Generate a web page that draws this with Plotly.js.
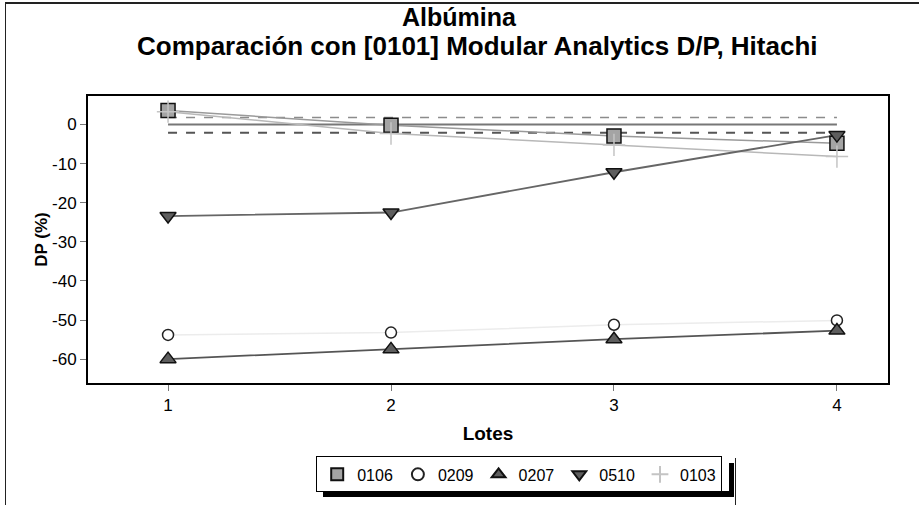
<!DOCTYPE html>
<html>
<head>
<meta charset="utf-8">
<script src="https://cdn.plot.ly/plotly-3.0.1.min.js"></script>
<style>
html,body{margin:0;padding:0;background:#fff;}
#wrap{position:relative;width:919px;height:505px;overflow:hidden;}
#chart{position:absolute;left:0;top:0;width:919px;height:505px;z-index:1;}
.deco{position:absolute;background:#222;pointer-events:none;z-index:3;}
.shadow{position:absolute;background:#000;pointer-events:none;z-index:3;}
</style>
</head>
<body>
<div id="wrap">
  <div id="chart"></div>
  <div class="deco" style="left:5px;top:2px;width:914px;height:2px;"></div>
  <div class="deco" style="left:5px;top:2px;width:1px;height:503px;"></div>
  <div class="deco" style="left:735px;top:458px;width:1px;height:47px;"></div>
  <div class="shadow" style="left:729px;top:463px;width:5px;height:34px;"></div>
  <div class="shadow" style="left:323px;top:491px;width:411px;height:6px;"></div>
</div>
<script>
// ---- data ----
const lotes = [1, 2, 3, 4];
const s0106 = [3.6, -0.2, -2.9, -4.8];
const s0209 = [-53.8, -53.2, -51.2, -50.1];
const s0207 = [-60.0, -57.5, -54.9, -52.7];
const s0510 = [-23.4, -22.5, -12.2, -2.7];
const s0103 = [3.3, -2.3, -5.2, -8.2];
const refCenter = [0, 0];
const refUpper = [1.8, 1.8];
const refLower = [-2.1, -2.1];
const refX = [1, 4];
const yTicks = [0, -10, -20, -30, -40, -50, -60];
const xTicks = [1, 2, 3, 4];
const seriesNames = ['0106', '0209', '0207', '0510', '0103'];
const titleLines = ['Albúmina', 'Comparación con [0101] Modular Analytics D/P, Hitachi'];

const F = '"Liberation Sans", Arial, sans-serif';

function lineTrace(y, color, width) {
  return {x: lotes, y: y, mode: 'lines', showlegend: false, hoverinfo: 'skip',
          line: {color: color, width: width}};
}
function markTrace(name, y, symbol, fill, lineColor, size) {
  return {x: lotes, y: y, mode: 'markers', name: name,
          marker: {symbol: symbol, size: size, color: fill,
                   line: {color: lineColor, width: 1.5}}};
}

const traces = [
  {x: refX, y: refUpper, mode: 'lines', showlegend: false, line: {color: '#8c8c8c', width: 1.5, dash: 'dash'}},
  {x: refX, y: refLower, mode: 'lines', showlegend: false, line: {color: '#555555', width: 2, dash: 'dash'}},
  {x: refX, y: refCenter, mode: 'lines', showlegend: false, line: {color: '#777777', width: 2}},
  lineTrace(s0209, '#ececec', 1.5),
  lineTrace(s0103, '#b8b8b8', 1.5),
  lineTrace(s0106, '#9a9a9a', 1.5),
  lineTrace(s0510, '#666666', 1.8),
  lineTrace(s0207, '#555555', 1.8),
  markTrace(seriesNames[0], s0106, 'square', '#a4a4a4', '#111111', 14),
  markTrace(seriesNames[1], s0209, 'circle', '#ffffff', '#222222', 11),
  markTrace(seriesNames[2], s0207, 'triangle-up', '#5e5e5e', '#111111', 14),
  markTrace(seriesNames[3], s0510, 'triangle-down', '#5e5e5e', '#111111', 14),
  {x: lotes, y: s0103, mode: 'markers', name: seriesNames[4],
   marker: {symbol: 'cross-thin', size: 16, color: '#c4c4c4', line: {color: '#c4c4c4', width: 1.5}}}
];

const py2y = function (p) { return (385 - p) / 289; };
const px2x = function (p) { return (p - 88) / 800; };

const layout = {
  width: 919, height: 505,
  margin: {l: 88, r: 31, t: 96, b: 120},
  paper_bgcolor: '#ffffff', plot_bgcolor: '#ffffff',
  showlegend: true,
  annotations: [
    {text: '<b>' + titleLines[0] + '</b>', xref: 'paper', yref: 'paper', x: px2x(459), y: py2y(16),
     xanchor: 'center', yanchor: 'middle', showarrow: false, font: {family: F, size: 25, color: '#000'}},
    {text: '<b>' + titleLines[1] + '</b>', xref: 'paper', yref: 'paper', x: px2x(477), y: py2y(46),
     xanchor: 'center', yanchor: 'middle', showarrow: false, font: {family: F, size: 26, color: '#000'}}
  ],
  xaxis: {
    range: [0.641, 4.229], tickvals: xTicks, ticktext: xTicks.map(String),
    showgrid: false, zeroline: false, showline: true, linecolor: '#000', linewidth: 2,
    mirror: true, ticks: 'outside', ticklen: 6, tickcolor: '#777', tickwidth: 1,
    tickfont: {family: F, size: 17, color: '#000'},
    title: {text: '<b>Lotes</b>', font: {family: F, size: 19, color: '#000'}, standoff: 12}
  },
  yaxis: {
    range: [-66.1, 7.3], tickvals: yTicks, ticktext: yTicks.map(String),
    showgrid: false, zeroline: false, showline: true, linecolor: '#000', linewidth: 2,
    mirror: true, ticks: 'outside', ticklen: 6, tickcolor: '#777', tickwidth: 1,
    tickfont: {family: F, size: 17, color: '#000'},
    title: {text: '<b>DP (%)</b>', font: {family: F, size: 17, color: '#000'}, standoff: 0}
  },
  legend: {
    orientation: 'h', x: 0.539, xanchor: 'center', y: -0.256, yanchor: 'top',
    bgcolor: '#ffffff', bordercolor: '#000', borderwidth: 1,
    font: {family: F, size: 16, color: '#000'},
    itemwidth: 30, itemsizing: 'constant', tracegroupgap: 0, itemclick: false
  }
};

Plotly.newPlot('chart', traces, layout, {displayModeBar: false, staticPlot: true});
</script>
</body>
</html>
